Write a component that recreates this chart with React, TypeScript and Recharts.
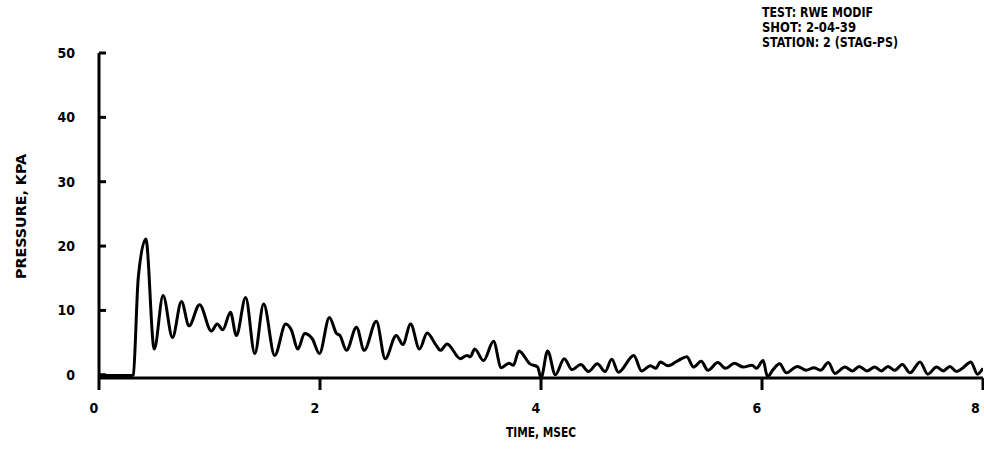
import React from 'react';
import { LineChart, Line, XAxis, YAxis } from 'recharts';

const timeMs: number[] = [
  0.0, 0.3, 0.31, 0.355, 0.424, 0.5, 0.58, 0.665, 0.746, 0.815, 0.91, 1.017, 1.07, 1.12, 1.19, 1.243, 1.327,
  1.41, 1.49, 1.59, 1.69, 1.74, 1.8, 1.86, 1.93, 1.995, 2.085, 2.15, 2.18, 2.24, 2.33, 2.4, 2.51, 2.59, 2.69,
  2.75, 2.82, 2.9, 2.97, 3.05, 3.09, 3.15, 3.27, 3.33, 3.36, 3.4, 3.48, 3.57, 3.64, 3.71, 3.75, 3.8, 3.9, 3.97,
  4.0, 4.06, 4.13, 4.21, 4.28, 4.36, 4.43, 4.51, 4.58, 4.64, 4.7, 4.84, 4.91, 4.99, 5.04, 5.08, 5.15, 5.24,
  5.32, 5.38, 5.45, 5.51, 5.6, 5.67, 5.75, 5.83, 5.91, 5.95, 6.01, 6.05, 6.1, 6.16, 6.22, 6.32, 6.4, 6.47,
  6.53, 6.6, 6.66, 6.75, 6.82, 6.88, 6.95, 7.02, 7.08, 7.14, 7.2, 7.27, 7.34, 7.43, 7.5, 7.58, 7.64, 7.7,
  7.76, 7.82, 7.89, 7.95, 8.0,
];

const pressureKpa: number[] = [
  -0.1, -0.1, 0.0, 15.0, 21.1, 4.0, 12.3, 5.8, 11.4, 7.6, 10.9, 6.8, 7.9, 7.0, 9.7, 6.1, 12.0,
  3.3, 11.0, 3.0, 7.9, 7.0, 4.0, 6.4, 5.6, 3.3, 8.9, 6.4, 6.1, 3.8, 7.4, 3.8, 8.3, 2.5, 6.1,
  4.7, 7.9, 4.0, 6.5, 4.6, 3.8, 4.8, 2.5, 3.0, 2.8, 4.0, 2.2, 5.2, 1.1, 1.8, 1.5, 3.7, 1.7, 1.2,
  -0.5, 3.7, 0.0, 2.5, 0.8, 1.6, 0.5, 1.7, 0.5, 2.4, 0.4, 3.0, 0.6, 1.4, 1.0, 2.0, 1.4, 2.2,
  2.8, 1.2, 2.1, 0.7, 1.9, 1.0, 1.8, 1.2, 1.5, 1.0, 2.2, -0.3, 0.8, 1.7, 0.3, 1.3, 0.7, 1.1,
  0.7, 1.9, 0.2, 1.2, 0.6, 1.3, 0.6, 1.2, 0.6, 1.3, 0.7, 1.6, 0.3, 2.0, 0.1, 1.2, 0.6, 1.3,
  0.5, 1.1, 2.0, 0.1, 1.0,
];

const xTicks: number[] = [0, 2, 4, 6, 8];
const yTicks: number[] = [0, 10, 20, 30, 40, 50];

const titleLines: string[] = ['TEST: RWE MODIF', 'SHOT: 2-04-39', 'STATION: 2 (STAG-PS)'];
const titleWidths: number[] = [111, 94, 136];
const xTitle = 'TIME, MSEC';
const yTitle = 'PRESSURE, KPA';

const data = timeMs.map((t, i) => ({ t, p: pressureKpa[i] }));

const FONT = '"DejaVu Sans Condensed", "DejaVu Sans", sans-serif';
const FS = 14;
const tickStyle = { fontFamily: FONT, fontWeight: 700, fontSize: 14, fill: '#000' };

const Y_TICK_MARGIN = 25;
const Y_TICK_LEN = 7;

function YTick(props: any) {
  const { x, y, payload } = props;
  const axisX = x + Y_TICK_MARGIN;
  return (
    <g>
      <line x1={axisX} x2={axisX + Y_TICK_LEN} y1={y} y2={y} stroke="#000" strokeWidth={3} />
      <text x={x + 1} y={y} dy="0.36em" textAnchor="end" style={tickStyle}>
        {payload.value}
      </text>
    </g>
  );
}

export default function App() {
  return (
    <div style={{ position: 'absolute', left: 0, top: 0, width: 984, height: 469, background: '#fff' }}>
      <LineChart
        width={984}
        height={469}
        data={data}
        margin={{ top: 53, right: 1, bottom: 61, left: 39 }}
      >
        <XAxis
          dataKey="t"
          type="number"
          domain={[0, 8]}
          ticks={xTicks}
          allowDataOverflow
          axisLine={{ stroke: '#000', strokeWidth: 3 }}
          tickLine={{ stroke: '#000', strokeWidth: 3 }}
          tickSize={12}
          tickMargin={13}
          height={30}
          tick={{ ...tickStyle, dx: -5 }}
        />
        <YAxis
          type="number"
          domain={[0, 50]}
          ticks={yTicks}
          axisLine={{ stroke: '#000', strokeWidth: 3 }}
          tickLine={false}
          tickSize={0}
          tickMargin={Y_TICK_MARGIN}
          width={60}
          tick={<YTick />}
        />
        <Line
          type="monotone"
          dataKey="p"
          stroke="#000"
          strokeWidth={3}
          dot={false}
          isAnimationActive={false}
        />
      </LineChart>
      <svg
        width={984}
        height={469}
        style={{ position: 'absolute', left: 0, top: 0, pointerEvents: 'none' }}
      >
        <g style={{ fontFamily: FONT, fontWeight: 700, fontSize: FS }} fill="#000">
          {titleLines.map((s, i) => (
            <text
              key={s}
              x={762}
              y={17 + i * 15}
              textLength={titleWidths[i]}
              lengthAdjust="spacingAndGlyphs"
            >
              {s}
            </text>
          ))}
          <text x={506} y={437} textLength={70} lengthAdjust="spacingAndGlyphs">
            {xTitle}
          </text>
          <text
            x={0}
            y={0}
            textLength={125}
            lengthAdjust="spacingAndGlyphs"
            dominantBaseline="central"
            transform="translate(21 279) rotate(-90)"
          >
            {yTitle}
          </text>
        </g>
      </svg>
    </div>
  );
}
